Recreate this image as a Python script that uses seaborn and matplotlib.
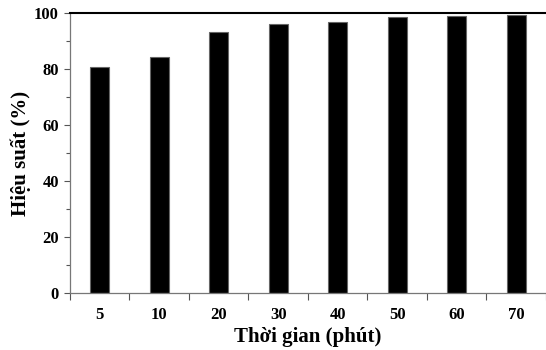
import matplotlib
matplotlib.use("Agg")
import matplotlib.pyplot as plt
import seaborn as sns
import pandas as pd
from matplotlib.ticker import MultipleLocator, FixedLocator

categories = ["5", "10", "20", "30", "40", "50", "60", "70"]
values = [80.7, 84.2, 93.1, 96.0, 96.8, 98.6, 98.9, 99.3]

df = pd.DataFrame({"t": categories, "y": values})

sns.set_theme(style="white")
plt.rcParams["font.family"] = ["Liberation Serif", "DejaVu Serif"]
plt.rcParams["font.weight"] = "bold"

fig = plt.figure(figsize=(5.46, 3.5), dpi=100)
ax = fig.add_axes([0.128, 0.163, 0.872, 0.8])

sns.barplot(data=df, x="t", y="y", color="black", width=0.32,
            edgecolor="#666666", linewidth=0.8, saturation=1, ax=ax)

ax.set_xlim(-0.5, len(categories) - 0.5)
ax.set_ylim(0, 100)
ax.yaxis.set_major_locator(MultipleLocator(20))
ax.yaxis.set_minor_locator(MultipleLocator(10))
ax.xaxis.set_minor_locator(FixedLocator([i - 0.5 for i in range(len(categories) + 1)]))

ax.tick_params(axis="x", which="major", length=0, pad=10, labelsize=12, labelcolor="black")
ax.tick_params(axis="x", which="minor", length=5, width=0.8, color="#555555", direction="out", bottom=True)
ax.tick_params(axis="y", which="major", length=4, width=0.8, color="#555555", direction="out", left=True, labelsize=12, pad=4, labelcolor="black")
ax.tick_params(axis="y", which="minor", length=3, width=0.8, color="#555555", direction="out", left=True)

for lab in ax.get_xticklabels() + ax.get_yticklabels():
    lab.set_fontweight("bold")

ax.spines["right"].set_visible(False)
ax.spines["top"].set_color("black")
ax.spines["top"].set_linewidth(1.5)
ax.spines["left"].set_color("#777777")
ax.spines["left"].set_linewidth(0.9)
ax.spines["bottom"].set_color("#777777")
ax.spines["bottom"].set_linewidth(0.9)

ax.set_xlabel("Thời gian (phút)", fontsize=15, fontweight="bold", color="black", labelpad=3)
ax.set_ylabel("Hiệu suất (%)", fontsize=15, fontweight="bold", color="black", labelpad=2)

fig.savefig("out.png", dpi=100)
